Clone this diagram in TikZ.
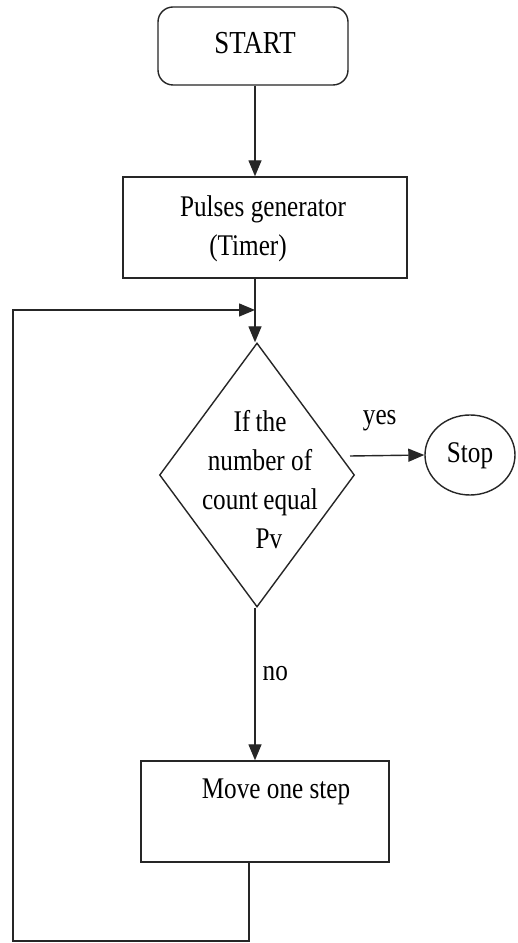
\documentclass[tikz,border=0pt]{standalone}
\usepackage{fontspec}
\setmainfont{Liberation Serif}[FakeStretch=0.84]
\usetikzlibrary{shapes.geometric,arrows.meta}

\tikzset{
  flow/.style={draw=black!85, line width=1.4pt},
  arr/.style={flow, -{Triangle[length=16pt,width=13pt]}},
  procbox/.style={flow, rectangle, inner sep=0pt},
  lbl/.style={font=\fontsize{30}{39}\selectfont, inner sep=0pt, align=center},
}

\begin{document}
\begin{tikzpicture}[x=1pt,y=1pt]
  \useasboundingbox (0,0) rectangle (518,943);
  \fill[white] (0,0) rectangle (518,943);

  % terminals and process boxes
  \node[procbox, rounded corners=15pt, minimum width=190pt, minimum height=78pt]
    (start) at (253,897) {};
  \node[lbl] (starttext) at (255,900) {\fontsize{32}{39}\selectfont START};

  \node[procbox, minimum width=284pt, minimum height=101pt] (pulse) at (265,715.5) {};
  \node[lbl] (pulsetext) at (263,714) {Pulses generator\\\hspace*{-1em}(Timer)};

  % decision
  \node[flow, diamond, inner sep=0pt, minimum width=195pt, minimum height=264pt]
    (dec) at (257,468) {};
  \node[lbl] (dectext) at (260,463)
    {If\hspace{0.18em}the\\number of\\count\hspace{0.18em}equal\\\hspace*{0.6em}Pv};

  \node[flow, ellipse, minimum width=90pt, minimum height=80pt, inner sep=0pt]
    (stop) at (470,488) {};
  \node[lbl] (stoptext) at (470,487) {Stop};

  \node[procbox, minimum width=248pt, minimum height=101pt] (move) at (265,131.5) {};
  \node[lbl] (movetext) at (276,151) {Move one step};

  % loop return point above the decision
  \coordinate (join) at (255,633);

  % connectors
  \draw[arr] (start.south -| join) -- (join |- pulse.north);
  \draw[flow] (join |- pulse.south) -- (join);
  \draw[arr] (join) -- (join |- dec.north);
  \draw[arr] (350,487) -- (stop.west)
    node[lbl, pos=0.4, above=24pt] (yes) {yes};
  \draw[arr] (join |- dec.south) -- (join |- move.north)
    node[lbl, pos=0.43, right=7pt] (no) {no};
  \draw[arr] ([xshift=-16pt]move.south) |- (13,2) |- (join);
\end{tikzpicture}
\end{document}
